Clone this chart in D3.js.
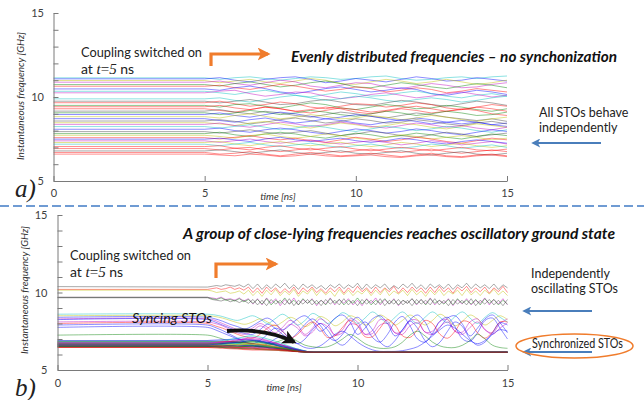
<!DOCTYPE html>
<html><head><meta charset="utf-8">
<script src="https://cdn.jsdelivr.net/npm/d3@7"></script>
<style>body{margin:0;background:#fff}svg{display:block}text{font-family:Lato,"Open Sans",sans-serif}</style>
</head><body><svg id="c" width="644" height="400"></svg>
<script>
// ---------------- DATA ----------------
const xTickValues = [0, 5, 10, 15];
const yTickValues = [5, 6, 7, 8, 9, 10, 11, 12, 13, 14, 15];
const yTickLabels = [5, 10, 15];
const couplingTime = 5;
const endTime = 15;

// Panel a) : each series = frequency at t=5,5.5,...,15 (first value = frequency before coupling)
const topSeries = [
 [11.14,11.05,11.15,11.2,11.1,11.0,11.1,11.2,11.15,11.05,11.1,11.2,11.25,11.1,11.0,11.05,11.15,11.2,11.1,11.2,11.25],
 [11.08,11.15,11.0,10.9,11.05,11.15,11.2,11.05,10.85,10.95,11.1,11.0,10.9,11.05,11.2,11.1,10.95,11.0,11.15,11.05,10.95],
 [10.98,10.85,10.95,11.05,10.9,10.8,10.95,11.1,11.0,10.8,10.75,10.9,11.05,10.95,10.8,10.9,11.05,10.9,10.75,10.85,11.0],
 [10.88,10.95,10.8,10.7,10.85,11.0,10.9,10.65,10.55,10.7,10.85,10.8,10.6,10.5,10.65,10.8,10.7,10.55,10.6,10.75,10.85],
 [10.74,10.65,10.8,10.9,10.75,10.6,10.7,10.85,10.95,10.8,10.6,10.55,10.7,10.85,10.75,10.6,10.5,10.65,10.8,10.7,10.55],
 [10.64,10.7,10.55,10.45,10.6,10.75,10.65,10.5,10.35,10.45,10.6,10.5,10.3,10.4,10.55,10.45,10.25,10.35,10.5,10.4,10.3],
 [10.48,10.4,10.55,10.65,10.5,10.3,10.2,10.35,10.5,10.6,10.45,10.3,10.4,10.55,10.45,10.2,10.1,10.25,10.4,10.3,10.15],
 [10.34,10.25,10.15,10.3,10.4,10.25,10.1,10.0,10.15,10.3,10.2,10.05,10.1,10.25,10.35,10.2,10.05,9.95,10.1,10.2,10.05],
 [10.25,10.35,10.4,10.2,10.05,10.15,10.3,10.25,10.05,9.9,10.0,10.15,10.25,10.1,9.95,10.05,10.2,10.3,10.15,10.0,10.1],
 [9.89,9.95,9.8,9.7,9.85,10.0,10.1,9.95,9.8,9.9,10.05,9.95,9.8,9.7,9.85,9.95,9.85,9.7,9.8,9.95,10.05],
 [9.75,9.65,9.75,9.85,9.7,9.55,9.6,9.75,9.85,9.7,9.55,9.5,9.65,9.8,9.7,9.55,9.45,9.6,9.75,9.65,9.5],
 [9.66,9.75,9.6,9.45,9.55,9.7,9.6,9.4,9.3,9.45,9.6,9.55,9.4,9.5,9.65,9.55,9.35,9.25,9.4,9.55,9.45],
 [9.5,9.4,9.55,9.6,9.45,9.35,9.5,9.65,9.55,9.35,9.25,9.4,9.55,9.45,9.3,9.35,9.5,9.4,9.25,9.15,9.3],
 [9.42,9.5,9.35,9.25,9.4,9.3,9.15,9.25,9.4,9.3,9.1,9.0,9.15,9.3,9.2,9.05,9.15,9.3,9.2,9.0,8.9],
 [9.3,9.2,9.1,9.25,9.4,9.3,9.15,9.05,9.2,9.35,9.25,9.1,9.2,9.35,9.45,9.3,9.15,9.25,9.4,9.3,9.15],
 [9.16,9.25,9.1,9.0,9.15,9.05,8.9,8.8,8.95,9.1,9.0,8.85,8.75,8.9,9.05,8.95,8.8,8.7,8.6,8.7,8.55],
 [9.06,8.95,9.05,9.2,9.1,8.95,9.05,9.2,9.1,8.95,8.85,9.0,9.15,9.05,8.9,9.0,9.15,9.05,8.9,8.95,9.1],
 [8.96,9.05,8.9,8.8,8.95,9.1,9.0,8.85,8.7,8.8,8.95,8.85,8.7,8.6,8.75,8.65,8.5,8.4,8.5,8.35,8.25],
 [8.83,8.75,8.9,9.0,8.85,8.7,8.8,8.95,8.85,8.7,8.75,8.9,8.8,8.65,8.75,8.9,8.8,8.65,8.55,8.7,8.8],
 [8.71,8.6,8.5,8.65,8.75,8.6,8.45,8.55,8.7,8.6,8.45,8.35,8.5,8.65,8.55,8.4,8.5,8.6,8.5,8.35,8.45],
 [8.57,8.65,8.55,8.4,8.5,8.65,8.75,8.6,8.45,8.55,8.7,8.6,8.45,8.5,8.65,8.55,8.4,8.3,8.45,8.55,8.4],
 [8.47,8.4,8.3,8.45,8.55,8.4,8.25,8.15,8.3,8.45,8.35,8.2,8.3,8.45,8.35,8.2,8.1,8.25,8.4,8.3,8.2],
 [8.37,8.45,8.3,8.2,8.35,8.5,8.4,8.25,8.35,8.5,8.4,8.25,8.15,8.3,8.45,8.35,8.2,8.3,8.15,8.05,8.2],
 [8.24,8.15,8.25,8.35,8.2,8.05,8.15,8.3,8.2,8.05,7.95,8.1,8.25,8.15,8.0,8.1,8.25,8.15,8.0,7.9,8.05],
 [8.08,8.15,8.0,7.9,8.05,8.15,8.05,7.9,7.8,7.95,8.1,8.0,7.85,7.95,8.1,8.0,7.85,7.75,7.9,8.05,7.95],
 [7.94,7.85,7.95,8.05,7.9,7.8,7.9,8.0,7.85,7.7,7.8,7.95,7.85,7.7,7.6,7.75,7.9,7.8,7.65,7.75,7.85],
 [7.82,7.9,7.75,7.65,7.8,7.9,7.8,7.65,7.55,7.7,7.85,7.75,7.6,7.7,7.85,7.75,7.6,7.5,7.65,7.8,7.7],
 [7.72,7.65,7.55,7.7,7.8,7.65,7.55,7.65,7.8,7.7,7.55,7.45,7.6,7.75,7.65,7.5,7.6,7.7,7.6,7.45,7.55],
 [7.58,7.5,7.6,7.7,7.55,7.45,7.55,7.4,7.3,7.45,7.6,7.5,7.35,7.45,7.6,7.5,7.35,7.25,7.4,7.55,7.45],
 [7.49,7.55,7.45,7.35,7.5,7.6,7.45,7.35,7.45,7.55,7.4,7.3,7.4,7.55,7.45,7.3,7.2,7.35,7.45,7.35,7.25],
 [7.39,7.3,7.4,7.5,7.35,7.25,7.35,7.45,7.3,7.2,7.3,7.4,7.3,7.15,7.25,7.4,7.3,7.15,7.25,7.35,7.2],
 [7.29,7.35,7.2,7.1,7.25,7.35,7.2,7.1,7.2,7.3,7.15,7.05,7.15,7.3,7.2,7.05,7.15,7.25,7.1,7.0,7.1],
 [7.19,7.1,7.2,7.3,7.15,7.05,7.15,7.25,7.1,7.0,7.1,7.2,7.05,6.95,7.05,7.2,7.1,6.95,7.05,7.15,7.0],
 [7.05,7.1,6.95,6.85,7.0,7.1,6.95,6.85,6.95,7.05,6.9,6.8,6.9,7.0,6.9,6.8,6.9,7.0,6.85,6.8,6.9],
 [6.93,6.85,6.95,7.0,6.85,6.75,6.85,6.95,6.8,6.7,6.8,6.9,6.75,6.7,6.8,6.9,6.75,6.65,6.75,6.85,6.75],
 [6.79,6.85,6.75,6.65,6.75,6.85,6.7,6.6,6.7,6.8,6.65,6.6,6.7,6.8,6.65,6.55,6.65,6.75,6.6,6.55,6.65],
 [6.7,6.6,6.65,6.75,6.6,6.5,6.6,6.7,6.6,6.5,6.55,6.65,6.55,6.45,6.55,6.65,6.5,6.45,6.55,6.6,6.5],
 [6.6,6.55,6.5,6.6,6.55,6.45,6.5,6.6,6.5,6.45,6.5,6.55,6.45,6.4,6.5,6.55,6.45,6.4,6.5,6.55,6.45]
];

// Panel b) : fast zig-zag oscillators (frequency before coupling, then values from t=5 to 15)
const zigInitial = [10.38, 10.2, 10.15, 9.69, 9.69, 9.66];
const zigSeries = [
 [10.35,10.4,10.45,10.4,10.5,10.45,10.4,10.5,10.35,10.55,10.25,10.55,10.2,10.5,10.25,10.55,10.3,10.6,10.25,10.5,10.2,10.55,10.3,10.5,10.25,10.45,10.2,10.5,10.3,10.55,10.25,10.5,10.3,10.6,10.2,10.55,10.25,10.5,10.3,10.55,10.2,10.45,10.25,10.55,10.3,10.6,10.25,10.5,10.2,10.55,10.3,10.5,10.25,10.55,10.2,10.5,10.3,10.6,10.25,10.55,10.3,10.5,10.25,10.55,10.2,10.5,10.3],
 [10.2,10.25,10.3,10.2,10.25,10.35,10.2,10.3,10.15,10.35,10.0,10.3,9.95,10.35,10.05,10.3,9.95,10.25,10.0,10.35,9.9,10.3,10.05,10.35,10.0,10.25,9.95,10.3,10.05,10.35,9.95,10.3,10.0,10.4,10.05,10.3,9.95,10.35,10.0,10.3,10.05,10.4,9.95,10.3,10.0,10.35,10.05,10.3,9.95,10.35,10.0,10.4,10.05,10.3,9.95,10.35,10.1,10.4,10.0,10.3,10.05,10.35,9.95,10.3,10.05,10.4,10.0],
 [10.15,10.1,10.0,10.05,10.1,9.95,10.0,10.1,9.9,10.15,9.8,10.1,9.75,10.15,9.85,10.2,9.8,10.1,9.85,10.2,9.75,10.1,9.9,10.25,9.8,10.15,9.85,10.1,9.75,10.2,9.85,10.15,9.8,10.1,9.9,10.2,9.8,10.15,9.85,10.25,9.8,10.1,9.9,10.15,9.8,10.2,9.85,10.1,9.75,10.15,9.85,10.2,9.8,10.1,9.9,10.15,9.8,10.2,9.85,10.1,9.8,10.15,9.9,10.2,9.85,10.1,9.8],
 [9.69,9.65,9.6,9.7,9.55,9.6,9.5,9.65,9.45,9.6,9.25,9.6,9.2,9.65,9.3,9.6,9.15,9.55,9.25,9.65,9.2,9.55,9.3,9.6,9.15,9.5,9.25,9.65,9.2,9.55,9.3,9.6,9.2,9.5,9.15,9.6,9.3,9.65,9.2,9.55,9.25,9.6,9.15,9.5,9.3,9.6,9.2,9.55,9.25,9.65,9.2,9.5,9.3,9.6,9.15,9.55,9.25,9.6,9.2,9.5,9.3,9.65,9.2,9.55,9.25,9.6,9.2],
 [9.69,9.6,9.55,9.65,9.5,9.55,9.45,9.6,9.4,9.55,9.3,9.55,9.25,9.6,9.2,9.5,9.3,9.65,9.25,9.5,9.2,9.6,9.3,9.55,9.25,9.5,9.2,9.6,9.3,9.55,9.2,9.5,9.3,9.65,9.25,9.55,9.2,9.5,9.3,9.6,9.25,9.55,9.2,9.5,9.3,9.6,9.25,9.55,9.2,9.6,9.3,9.5,9.25,9.55,9.2,9.6,9.3,9.5,9.25,9.55,9.2,9.6,9.3,9.55,9.2,9.5,9.25],
 [9.66,9.55,9.5,9.45,9.55,9.4,9.5,9.35,9.5,9.3,9.55,9.2,9.5,9.15,9.55,9.25,9.5,9.2,9.6,9.15,9.5,9.25,9.55,9.2,9.5,9.15,9.55,9.25,9.5,9.2,9.6,9.2,9.5,9.15,9.55,9.25,9.5,9.2,9.6,9.15,9.5,9.25,9.55,9.2,9.5,9.15,9.55,9.25,9.5,9.2,9.6,9.2,9.5,9.15,9.55,9.25,9.5,9.2,9.6,9.15,9.5,9.25,9.55,9.2,9.5,9.15,9.55]
];

// Panel b) : slow oscillators, t = 5 .. 15 in 0.25 ns steps (first value = frequency before coupling)
const waveSeries = [
 [8.6,8.55,8.45,8.3,8.2,8.35,8.5,8.3,8.0,8.3,8.6,8.3,7.9,8.2,8.65,8.4,8.0,8.3,8.7,8.45,8.0,8.35,8.75,8.4,8.0,8.4,8.75,8.35,8.0,8.4,8.75,8.4,8.05,8.45,8.75,8.35,8.0,8.4,8.7,8.4,8.1],
 [8.5,8.45,8.35,8.2,8.05,7.95,8.1,8.3,8.1,7.85,8.1,8.4,8.2,7.8,8.05,8.45,8.25,7.85,8.1,8.5,8.3,7.9,8.15,8.55,8.3,7.9,8.2,8.55,8.25,7.9,8.2,8.6,8.3,7.85,8.15,8.55,8.3,7.9,8.2,8.5,8.25],
 [8.4,8.3,8.15,7.95,7.8,7.65,7.85,8.15,8.35,8.05,7.6,7.9,8.3,8.5,8.1,7.5,7.8,8.35,8.55,8.1,7.3,7.7,8.3,8.5,8.0,7.2,7.6,8.25,8.55,8.1,7.3,7.75,8.35,8.5,7.95,7.2,7.7,8.3,8.55,8.05,7.4],
 [8.3,8.2,8.0,7.8,7.6,7.5,7.7,8.0,7.75,7.4,7.75,8.2,7.9,7.3,7.7,8.3,8.0,7.25,7.6,8.3,8.1,7.3,7.55,8.25,8.15,7.4,7.5,8.2,8.2,7.45,7.5,8.15,8.25,7.5,7.45,8.1,8.3,7.6,7.4,8.0,8.3],
 [8.25,8.1,7.9,7.7,7.5,7.35,7.3,7.6,7.95,7.7,7.3,7.0,7.4,7.95,8.3,7.9,7.2,6.9,7.3,8.0,8.4,7.9,7.1,6.8,7.3,8.1,8.45,7.85,7.0,6.8,7.35,8.15,8.4,7.8,7.0,6.85,7.4,8.2,8.35,7.7,7.0],
 [8.1,8.0,7.85,7.6,7.4,7.3,7.5,7.85,7.6,7.2,7.5,7.95,7.7,7.2,7.45,8.0,7.8,7.25,7.4,7.95,7.9,7.3,7.35,7.9,8.0,7.4,7.3,7.85,8.05,7.45,7.3,7.8,8.1,7.5,7.3,7.75,8.1,7.6,7.3,7.7,8.05],
 [8.0,7.85,7.7,7.5,7.3,7.15,7.05,7.3,7.7,7.9,7.5,7.05,7.3,7.8,8.1,7.7,7.1,7.2,7.75,8.2,7.85,7.15,7.15,7.7,8.25,7.9,7.2,7.1,7.6,8.2,8.0,7.3,7.05,7.5,8.15,8.05,7.4,7.05,7.45,8.1,8.1],
 [7.9,7.75,7.55,7.3,7.05,6.85,6.7,6.9,7.3,7.7,7.5,7.0,6.7,7.0,7.6,8.0,7.6,6.9,6.6,7.0,7.7,8.1,7.6,6.8,6.5,6.9,7.6,8.15,7.7,6.9,6.5,6.8,7.5,8.1,7.8,7.0,6.6,6.8,7.4,8.05,7.9],
 [7.75,7.6,7.4,7.2,7.0,6.8,6.6,6.5,6.7,7.0,7.2,7.0,6.7,6.45,6.4,6.55,6.9,7.3,7.5,7.2,6.8,6.5,6.3,6.2,6.2,6.2,6.25,6.35,6.5,6.8,7.2,7.6,7.9,7.7,7.3,6.9,6.7,6.9,7.3,7.6,7.5],
 [7.25,7.15,7.0,6.85,6.75,6.65,6.6,6.55,6.6,6.75,6.95,7.1,6.85,6.6,6.5,6.45,6.5,6.7,7.0,7.3,7.05,6.7,6.5,6.4,6.4,6.5,6.8,7.25,7.5,7.2,6.8,6.55,6.45,6.45,6.6,6.9,7.3,7.0,6.6,6.45,6.4]
];

// Panel b) : synchronising group, sampled at syncTimes
const syncTimes = [0, 5, 5.5, 6, 6.5, 7, 7.5, 8, 8.5, 15];
const syncSeries = [
 [6.9,6.9,6.95,7.0,6.95,6.8,6.6,6.35,6.15,6.15],
 [6.85,6.85,6.8,6.85,6.9,6.75,6.55,6.3,6.15,6.15],
 [6.8,6.8,6.85,6.8,6.7,6.6,6.45,6.25,6.15,6.15],
 [6.78,6.78,6.7,6.75,6.8,6.7,6.5,6.3,6.16,6.16],
 [6.75,6.75,6.8,6.9,7.1,6.9,6.6,6.3,6.15,6.15],
 [6.72,6.72,6.7,6.65,6.6,6.5,6.4,6.25,6.15,6.15],
 [6.7,6.7,6.75,6.8,6.7,6.55,6.4,6.25,6.15,6.15],
 [6.68,6.68,6.6,6.55,6.6,6.55,6.4,6.2,6.15,6.15],
 [6.65,6.65,6.7,6.75,6.85,6.7,6.5,6.3,6.15,6.15],
 [6.62,6.62,6.55,6.5,6.5,6.45,6.35,6.2,6.15,6.15],
 [6.6,6.6,6.65,6.7,6.6,6.5,6.35,6.2,6.15,6.15],
 [6.58,6.58,6.5,6.45,6.45,6.4,6.3,6.2,6.15,6.15],
 [6.55,6.55,6.6,6.65,6.75,6.6,6.4,6.25,6.15,6.15],
 [6.52,6.52,6.45,6.4,6.4,6.35,6.3,6.2,6.15,6.15],
 [6.5,6.5,6.55,6.6,6.55,6.45,6.35,6.2,6.15,6.15],
 [6.48,6.48,6.45,6.4,6.35,6.3,6.25,6.2,6.15,6.15],
 [6.45,6.45,6.4,6.35,6.3,6.3,6.25,6.18,6.15,6.15],
 [6.82,6.82,6.9,7.05,7.2,7.0,6.7,6.35,6.15,6.15],
 [6.74,6.74,6.8,6.95,7.0,6.85,6.6,6.3,6.15,6.15],
 [6.66,6.66,6.6,6.6,6.65,6.55,6.4,6.22,6.15,6.15],
 [6.57,6.57,6.6,6.55,6.5,6.45,6.35,6.2,6.15,6.15],
 [6.63,6.63,6.7,6.8,6.9,6.75,6.5,6.28,6.15,6.15],
 [6.53,6.53,6.5,6.5,6.55,6.5,6.4,6.22,6.15,6.15],
 [6.47,6.47,6.5,6.45,6.4,6.35,6.3,6.2,6.15,6.15]
];

// ---------------- STYLE ----------------
const C = {b:"#0000ff", g:"#008000", r:"#ff0000", c:"#00bfbf", m:"#bf00bf", y:"#bfbf00", k:"#404040"};
const topColors = ["c","b","y","m","g","r","b","c","m","c","k","r","g","r","r","k","g","b","y","b","k","y","m","c","b","k","g","y","r","b","m","y","c","r","r","k","r","r"];
const zigColors = ["k","r","y","m","g","k"];
const waveColors = ["c","y","b","m","b","m","r","b","b","g"];
const syncColors = ["b","g","r","c","m","y","k"];
const OP = 0.45;

const svg = d3.select("#c");

function makeAxes(g, x, y, lp, bp) {
  const ya = d3.axisLeft(y).tickValues(yTickValues).tickSize(-5).tickSizeOuter(0).tickPadding(lp)
    .tickFormat(d => yTickLabels.includes(d) ? d : "");
  const xa = d3.axisBottom(x).tickValues(xTickValues).tickSize(-5).tickSizeOuter(0).tickPadding(bp);
  const yg = g.append("g").attr("transform", `translate(${x.range()[0]},0)`).call(ya);
  const xg = g.append("g").attr("transform", `translate(0,${y.range()[0]})`).call(xa);
  [yg, xg].forEach(a => {
    a.selectAll("path,line").attr("stroke", "#7a7a7a");
    a.selectAll("text").attr("fill", "#404040").style("font-size", "11px").style("font-family", "Lato, sans-serif");
  });
}

function postPoints(initial, vals) {
  const n = vals.length;
  const pts = [[0, initial]];
  vals.forEach((v, i) => pts.push([couplingTime + i * (endTime - couplingTime) / (n - 1), v]));
  return pts;
}

// ---------- Panel a ----------
{
  const x = d3.scaleLinear().domain([0, 15]).range([53.5, 507]);
  const y = d3.scaleLinear().domain([5, 15]).range([181, 13]);
  const g = svg.append("g");
  const line = d3.line().x(d => x(d[0])).y(d => y(d[1]));
  g.selectAll(".ta").data(topSeries).join("path")
    .attr("d", s => line(postPoints(s[0], s)))
    .attr("fill", "none").attr("stroke", (s, i) => C[topColors[i % topColors.length]])
    .attr("stroke-opacity", OP).attr("stroke-width", 1);
  makeAxes(g, x, y, 9.5, 8);
}

// ---------- Panel b ----------
{
  const x = d3.scaleLinear().domain([0, 15]).range([57.5, 507.5]);
  const y = d3.scaleLinear().domain([5, 15]).range([370, 215]);
  const g = svg.append("g");
  const lin = d3.line().x(d => x(d[0])).y(d => y(d[1]));
  const smooth = d3.line().x(d => x(d[0])).y(d => y(d[1])).curve(d3.curveCatmullRom);
  const mono = d3.line().x(d => x(d[0])).y(d => y(d[1])).curve(d3.curveMonotoneX);
  g.selectAll(".w").data(waveSeries).join("path")
    .attr("d", s => smooth(postPoints(s[0], s)))
    .attr("fill", "none").attr("stroke", (s, i) => C[waveColors[i]])
    .attr("stroke-opacity", OP).attr("stroke-width", 1);
  g.selectAll(".z").data(zigSeries).join("path")
    .attr("d", (s, i) => lin(postPoints(zigInitial[i], s)))
    .attr("fill", "none").attr("stroke", (s, i) => C[zigColors[i]])
    .attr("stroke-opacity", OP).attr("stroke-width", 1);
  g.selectAll(".s").data(syncSeries).join("path")
    .attr("d", s => mono(s.map((v, j) => [syncTimes[j], v])))
    .attr("fill", "none").attr("stroke", (s, i) => C[syncColors[i % syncColors.length]])
    .attr("stroke-opacity", 0.5).attr("stroke-width", 1.1);
  makeAxes(g, x, y, 10, 9);
}

// ---------------- ANNOTATIONS ----------------
const defs = svg.append("defs");
function marker(id, color, w, h) {
  defs.append("marker").attr("id", id).attr("viewBox", "0 0 10 10").attr("refX", 8).attr("refY", 5)
    .attr("markerWidth", w).attr("markerHeight", h).attr("orient", "auto").attr("markerUnits", "userSpaceOnUse")
    .append("path").attr("d", "M0,0 L10,5 L0,10 L2.5,5 Z").attr("fill", color);
}
marker("blueHead", "#4a7ebb", 11, 9);
marker("orangeHead", "#f07c2c", 13, 13);
marker("blackHead", "#111", 14, 14);

// separator
svg.append("line").attr("x1", 0).attr("x2", 644).attr("y1", 206).attr("y2", 206)
  .attr("stroke", "#6f9bd3").attr("stroke-width", 2).attr("stroke-dasharray", "9,4");

// axis titles
function axisTitles(cx, cy, tx, ty) {
  svg.append("text").attr("transform", `translate(${cx},${cy}) rotate(-90)`).attr("text-anchor", "middle")
    .attr("dy", "0.35em").style("font-size", "10px").style("font-style", "italic").attr("fill", "#333")
    .attr("textLength", 128).attr("lengthAdjust", "spacingAndGlyphs")
    .text("Instantaneous frequency [GHz]");
  svg.append("text").attr("x", tx).attr("y", ty).attr("text-anchor", "middle")
    .style("font-size", "10px").style("font-style", "italic").attr("fill", "#333").text("time [ns]");
}
axisTitles(20, 96, 278, 200);
axisTitles(24, 290, 284, 391);

// panel letters
svg.append("text").attr("x", 15).attr("y", 197).style("font-family", "'Liberation Serif', serif")
  .style("font-style", "italic").style("font-size", "25px").attr("fill", "#222").text("a)");
svg.append("text").attr("x", 15).attr("y", 396).style("font-family", "'Liberation Serif', serif")
  .style("font-style", "italic").style("font-size", "25px").attr("fill", "#222").text("b)");

// titles
function title(x, y, len, s) {
  svg.append("text").attr("x", x).attr("y", y).style("font-size", "15px").style("font-weight", "bold")
    .style("font-style", "italic").attr("fill", "#111").attr("textLength", len).attr("lengthAdjust", "spacingAndGlyphs").text(s);
}
title(291, 62, 326, "Evenly distributed frequencies \u2013 no synchonization");
title(183, 239, 432, "A group of close-lying frequencies reaches oscillatory ground state");

// coupling text
function coupling(x, y1, y2) {
  svg.append("text").attr("x", x).attr("y", y1).style("font-size", "14px").attr("fill", "#222")
    .attr("textLength", 121).attr("lengthAdjust", "spacingAndGlyphs").text("Coupling switched on");
  const t = svg.append("text").attr("x", x).attr("y", y2).style("font-size", "14px").attr("fill", "#222");
  t.append("tspan").text("at ");
  t.append("tspan").style("font-family", "'Liberation Serif', serif").style("font-style", "italic").style("font-size", "15px").text("t");
  t.append("tspan").style("font-family", "'Liberation Serif', serif").style("font-size", "15px").text("=");
  t.append("tspan").style("font-family", "'Liberation Serif', serif").style("font-style", "italic").style("font-size", "15px").text("5");
  t.append("tspan").text(" ns");
}
coupling(81, 57, 74);
coupling(70, 260, 277);

// orange arrows
function orange(x0, yb, yt, xt) {
  svg.append("path").attr("d", `M${x0},${yb} L${x0},${yt} L${xt},${yt}`).attr("fill", "none")
    .attr("stroke", "#f07c2c").attr("stroke-width", 3.2).attr("marker-end", "url(#orangeHead)");
}
orange(211, 66, 54, 268);
orange(216, 278, 264, 276);

// side texts
function side(x, y, lines, size) {
  lines.forEach((s, i) => svg.append("text").attr("x", x).attr("y", y + i * 14.5).style("font-size", size + "px")
    .attr("fill", "#222").text(s));
}
side(539, 117, ["All STOs behave", "independently"], 12.5);
side(531, 278, ["Independently", "oscillating STOs"], 12.5);
svg.append("text").attr("x", 532).attr("y", 348).style("font-size", "12.5px").attr("fill", "#222")
  .attr("textLength", 91).attr("lengthAdjust", "spacingAndGlyphs").text("Synchronized STOs");

// blue arrows
function blue(x1, x2, yy) {
  svg.append("line").attr("x1", x1).attr("x2", x2).attr("y1", yy).attr("y2", yy)
    .attr("stroke", "#4a7ebb").attr("stroke-width", 2.2).attr("marker-end", "url(#blueHead)");
}
blue(601, 533, 143);
blue(592, 524, 311);
blue(592, 524, 352);

// ellipse
svg.append("ellipse").attr("cx", 574.5).attr("cy", 346).attr("rx", 58.5).attr("ry", 12)
  .attr("fill", "none").attr("stroke", "#f07c2c").attr("stroke-width", 1.5);

// Syncing STOs
svg.append("text").attr("x", 132).attr("y", 323).style("font-size", "14px").style("font-style", "italic")
  .attr("fill", "#111").attr("textLength", 80).attr("lengthAdjust", "spacingAndGlyphs").text("Syncing STOs");
svg.append("path").attr("d", "M227,331 Q266,328 294,342").attr("fill", "none").attr("stroke", "#111")
  .attr("stroke-width", 3.8).attr("marker-end", "url(#blackHead)");
</script></body></html>
